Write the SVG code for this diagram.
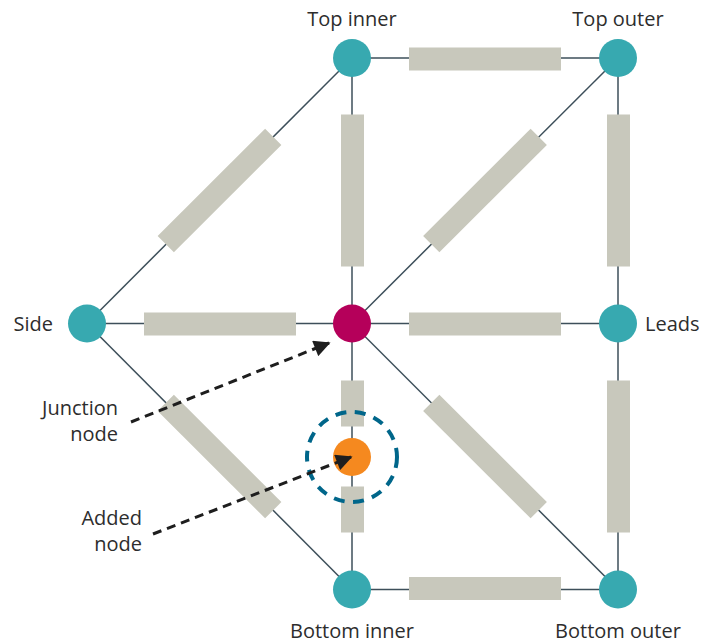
<svg xmlns="http://www.w3.org/2000/svg" width="717" height="643" viewBox="0 0 717 643">
<defs>
<style>
.wire{stroke:#3d4f5a;stroke-width:1.5;fill:none}
.res{fill:#c8c8bc}
.node{fill:#37a9b0}
.lbl{font-family:"Open Sans","Noto Sans",sans-serif;font-size:20px;fill:#2d2d2d}
.ptr{stroke:#1e1e1e;stroke-width:3;stroke-dasharray:9 6;fill:none}
</style>
<marker id="ah" viewBox="0 0 10 10" refX="9" refY="5" markerWidth="6" markerHeight="5.5" markerUnits="strokeWidth" orient="auto">
<path d="M0,0 L10,5 L0,10 z" fill="#1e1e1e"/>
</marker>
</defs>
<rect width="717" height="643" fill="#fff"/>
<g id="connectors">
<line class="wire" x1="352" y1="58" x2="618" y2="58"/>
<line class="wire" x1="87" y1="323.5" x2="618" y2="323.5"/>
<line class="wire" x1="352" y1="589.5" x2="618" y2="589.5"/>
<line class="wire" x1="352" y1="58" x2="352" y2="589.5"/>
<line class="wire" x1="618" y1="58" x2="618" y2="589.5"/>
<line class="wire" x1="352" y1="58" x2="87" y2="323.5"/>
<line class="wire" x1="618" y1="58" x2="352" y2="323.5"/>
<line class="wire" x1="87" y1="323.5" x2="352" y2="589.5"/>
<line class="wire" x1="352" y1="323.5" x2="618" y2="589.5"/>
<rect class="res" x="409" y="47.5" width="152" height="23"/>
<rect class="res" x="144" y="312.5" width="152" height="23"/>
<rect class="res" x="409" y="312.5" width="152" height="23"/>
<rect class="res" x="409" y="577" width="152" height="23"/>
<rect class="res" x="341" y="114.5" width="23" height="152"/>
<rect class="res" x="607" y="114.5" width="23" height="152"/>
<rect class="res" x="607" y="380.5" width="23" height="152"/>
<rect class="res" x="341" y="380.5" width="23" height="46"/>
<rect class="res" x="341" y="486.5" width="23" height="46"/>
<rect class="res" x="143.5" y="179" width="152" height="23" transform="rotate(-45 219.5 190.5)"/>
<rect class="res" x="409" y="179" width="152" height="23" transform="rotate(-45 485 190.5)"/>
<rect class="res" x="143.5" y="445" width="152" height="23" transform="rotate(45 219.5 456.5)"/>
<rect class="res" x="409" y="445" width="152" height="23" transform="rotate(45 485 456.5)"/>
</g>
<g id="n-top-inner"><circle class="node" cx="352" cy="58" r="19"/><text class="lbl" x="352" y="26" text-anchor="middle">Top inner</text></g>
<g id="n-top-outer"><circle class="node" cx="618" cy="58" r="19"/><text class="lbl" x="618" y="26" text-anchor="middle">Top outer</text></g>
<g id="n-side"><circle class="node" cx="87" cy="323.5" r="19"/><text class="lbl" x="53" y="331" text-anchor="end">Side</text></g>
<g id="n-junction"><circle cx="352" cy="323.5" r="19" fill="#b5005a"/></g>
<g id="n-leads"><circle class="node" cx="618" cy="323.5" r="19"/><text class="lbl" x="645" y="331">Leads</text></g>
<g id="n-bottom-inner"><circle class="node" cx="352" cy="589.5" r="19"/><text class="lbl" x="352" y="638" text-anchor="middle">Bottom inner</text></g>
<g id="n-bottom-outer"><circle class="node" cx="618" cy="589.5" r="19"/><text class="lbl" x="618" y="638" text-anchor="middle">Bottom outer</text></g>
<g id="n-added">
<circle cx="352" cy="457" r="45" fill="none" stroke="#00668a" stroke-width="4" stroke-dasharray="11 8.5"/>
<circle cx="352" cy="457" r="19" fill="#f5891f"/>
</g>
<g id="callouts">
<text class="lbl" x="118" y="415" text-anchor="end">Junction</text>
<text class="lbl" x="118" y="441" text-anchor="end">node</text>
<text class="lbl" x="142" y="525" text-anchor="end">Added</text>
<text class="lbl" x="142" y="551" text-anchor="end">node</text>
<line class="ptr" x1="131" y1="422" x2="329" y2="343" marker-end="url(#ah)"/>
<line class="ptr" x1="153" y1="534" x2="351" y2="457" marker-end="url(#ah)"/>
</g>
</svg>
